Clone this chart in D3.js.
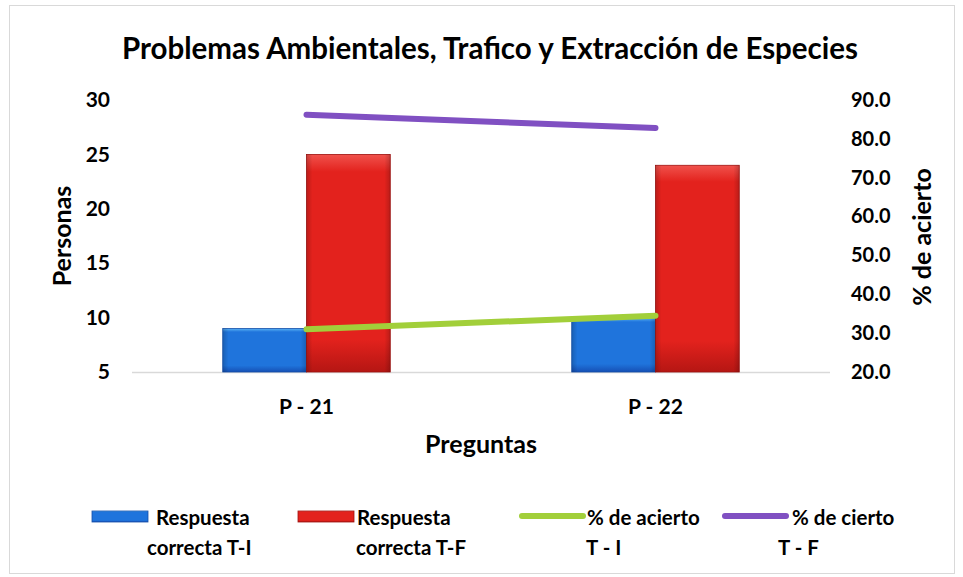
<!DOCTYPE html>
<html>
<head>
<meta charset="utf-8">
<script src="https://cdn.jsdelivr.net/npm/d3@7"></script>
<style>
  body { margin: 0; background: #fff; }
  text { font-family: Lato, "Open Sans", sans-serif; font-weight: bold; fill: #000; }
</style>
</head>
<body>
<div id="chart"></div>
<script>
// Chart data
var preguntas = ["P - 21", "P - 22"];
var correctaTI = [9, 10];
var correctaTF = [25, 24];
var aciertoTI = [31.0, 34.5];
var ciertoTF = [86.2, 82.8];
var leftTicks = [5, 10, 15, 20, 25, 30];
var rightTicks = [20, 30, 40, 50, 60, 70, 80, 90];

var svgWidth = 963;
var svgHeight = 577;
var margin = { top: 100, right: 133, bottom: 205, left: 132 };
var width = svgWidth - margin.left - margin.right;
var height = svgHeight - margin.top - margin.bottom;

var svg = d3.select("#chart").append("svg")
  .attr("width", svgWidth)
  .attr("height", svgHeight);

// gradients for the bevelled bars
var defs = svg.append("defs");
function bevel(id, light, mid, dark) {
  var g = defs.append("linearGradient").attr("id", id)
    .attr("x1", 0).attr("y1", 0).attr("x2", 0).attr("y2", 1);
  g.append("stop").attr("offset", "0%").attr("stop-color", light);
  g.append("stop").attr("offset", "8%").attr("stop-color", mid);
  g.append("stop").attr("offset", "85%").attr("stop-color", mid);
  g.append("stop").attr("offset", "100%").attr("stop-color", dark);
}
bevel("blueGrad", "#5bb4f5", "#1f74dc", "#1650b5");
bevel("redGrad", "#f0524c", "#e3221d", "#b51613");
// side shading
var side = defs.append("linearGradient").attr("id", "sideShade")
  .attr("x1", 0).attr("y1", 0).attr("x2", 1).attr("y2", 0);
side.append("stop").attr("offset", "0%").attr("stop-color", "#000").attr("stop-opacity", 0.18);
side.append("stop").attr("offset", "7%").attr("stop-color", "#000").attr("stop-opacity", 0);
side.append("stop").attr("offset", "93%").attr("stop-color", "#000").attr("stop-opacity", 0);
side.append("stop").attr("offset", "100%").attr("stop-color", "#000").attr("stop-opacity", 0.18);

// outer border
svg.append("rect")
  .attr("x", 9.5).attr("y", 5.5)
  .attr("width", 945).attr("height", 568)
  .attr("fill", "none").attr("stroke", "#d9d9d9");

var chart = svg.append("g").attr("transform", `translate(${margin.left}, ${margin.top})`);

// scales
var x0 = d3.scaleBand().domain(preguntas).range([0, width]).paddingInner(0.52).paddingOuter(0.26);
var x1 = d3.scaleBand().domain(["ti", "tf"]).range([0, x0.bandwidth()]);
var yLeft = d3.scaleLinear().domain([5, 30]).range([height, 0]);
var yRight = d3.scaleLinear().domain([20, 90]).range([height, 0]);

// baseline
chart.append("line")
  .attr("x1", 0).attr("x2", width)
  .attr("y1", height + 0.5).attr("y2", height + 0.5)
  .attr("stroke", "#d9d9d9").attr("stroke-width", 1.5);

// axes
var leftAxis = d3.axisLeft(yLeft).tickValues(leftTicks).tickSize(0).tickPadding(22);
var rightAxis = d3.axisRight(yRight).tickValues(rightTicks).tickSize(0).tickPadding(21)
  .tickFormat(d3.format(".1f"));
var bottomAxis = d3.axisBottom(x0).tickSize(0).tickPadding(27);

chart.append("g").call(leftAxis)
  .call(g => g.select(".domain").remove())
  .selectAll("text").style("font-size", "21px");
chart.append("g").attr("transform", `translate(${width},0)`).call(rightAxis)
  .call(g => g.select(".domain").remove())
  .selectAll("text").style("font-size", "20px");
chart.append("g").attr("transform", `translate(0,${height})`).call(bottomAxis)
  .call(g => g.select(".domain").remove())
  .selectAll("text").style("font-size", "21px");

// bars
var groups = chart.selectAll(".grp").data(preguntas).enter().append("g")
  .attr("transform", d => `translate(${x0(d)},0)`);

function bars(vals, key, fill, stroke) {
  groups.append("rect")
    .attr("x", x1(key))
    .attr("y", (d, i) => yLeft(vals[i]))
    .attr("width", x1.bandwidth())
    .attr("height", (d, i) => height - yLeft(vals[i]))
    .attr("fill", fill)
    .attr("stroke", stroke).attr("stroke-width", 0.8);
  groups.append("rect")
    .attr("x", x1(key))
    .attr("y", (d, i) => yLeft(vals[i]))
    .attr("width", x1.bandwidth())
    .attr("height", (d, i) => height - yLeft(vals[i]))
    .attr("fill", "url(#sideShade)");
}
bars(correctaTI, "ti", "url(#blueGrad)", "#164fa8");
bars(correctaTF, "tf", "url(#redGrad)", "#9e1210");

// lines
var cx = d => x0(d) + x0.bandwidth() / 2;
var lineGen = d3.line().x((d, i) => cx(preguntas[i])).y(d => yRight(d));

chart.append("path").datum(aciertoTI)
  .attr("d", lineGen)
  .attr("fill", "none").attr("stroke", "#a2cf3a")
  .attr("stroke-width", 6).attr("stroke-linecap", "round");

chart.append("path").datum(ciertoTF)
  .attr("d", lineGen)
  .attr("fill", "none").attr("stroke", "#8050c2")
  .attr("stroke-width", 6).attr("stroke-linecap", "round");

// titles
svg.append("text")
  .attr("x", 490).attr("y", 59)
  .attr("text-anchor", "middle")
  .style("font-size", "29.5px")
  .text("Problemas Ambientales, Trafico y Extracción de Especies");

svg.append("text")
  .attr("transform", "translate(71,236) rotate(-90)")
  .attr("text-anchor", "middle")
  .style("font-size", "25px")
  .text("Personas");

svg.append("text")
  .attr("transform", "translate(931,237) rotate(-90)")
  .attr("text-anchor", "middle")
  .style("font-size", "25px")
  .text("% de acierto");

svg.append("text")
  .attr("x", 481).attr("y", 453)
  .attr("text-anchor", "middle")
  .style("font-size", "25px")
  .text("Preguntas");

// legend
var legendItems = [
  { kind: "bar", fill: "url(#blueGrad)", stroke: "#164fa8", x: 92, l1: "Respuesta", l2: "correcta T-I", tx1: 156, tx2: 147 },
  { kind: "bar", fill: "url(#redGrad)", stroke: "#9e1210", x: 298, l1: "Respuesta", l2: "correcta T-F", tx1: 357, tx2: 356 },
  { kind: "line", fill: "#a2cf3a", x: 522, l1: "% de acierto", l2: "T - I", tx1: 587, tx2: 586 },
  { kind: "line", fill: "#8050c2", x: 725, l1: "% de cierto", l2: "T - F", tx1: 792, tx2: 778 }
];

var legend = svg.append("g");
legendItems.forEach(function(it) {
  if (it.kind === "bar") {
    legend.append("rect")
      .attr("x", it.x).attr("y", 511).attr("width", 56).attr("height", 11)
      .attr("fill", it.fill).attr("stroke", it.stroke).attr("stroke-width", 0.8);
  } else {
    legend.append("line")
      .attr("x1", it.x).attr("x2", it.x + 61).attr("y1", 516).attr("y2", 516)
      .attr("stroke", it.fill).attr("stroke-width", 6).attr("stroke-linecap", "round");
  }
  legend.append("text").attr("x", it.tx1).attr("y", 525).style("font-size", "20.5px").text(it.l1);
  legend.append("text").attr("x", it.tx2).attr("y", 555).style("font-size", "20.5px").text(it.l2);
});
</script>
</body>
</html>
